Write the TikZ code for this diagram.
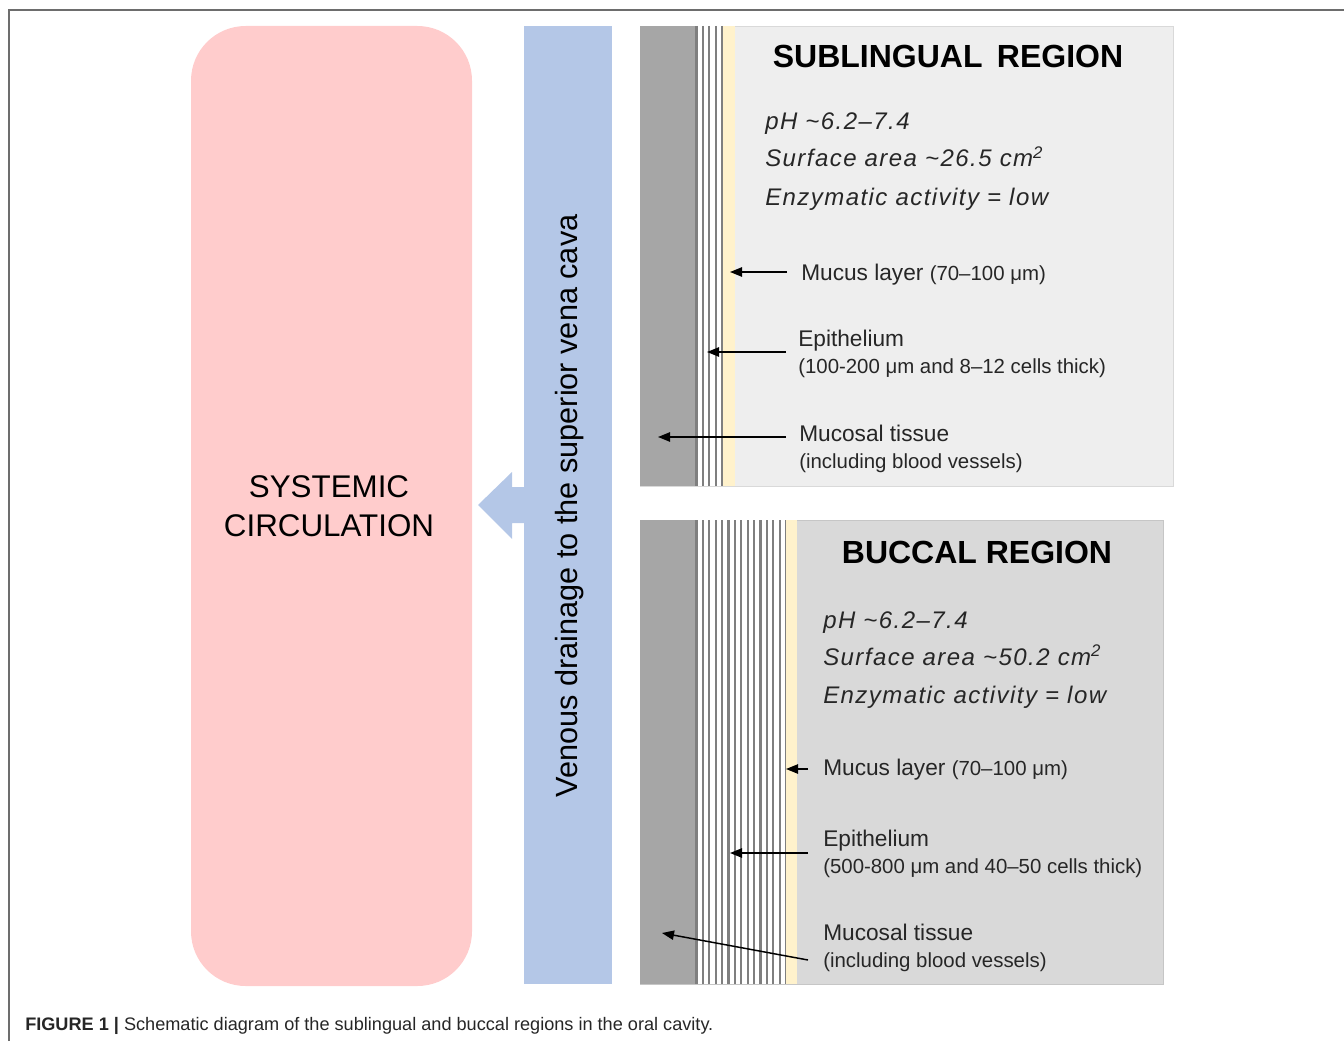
\documentclass[tikz,border=0pt]{standalone}
\usepackage{fontspec}
\setmainfont{Liberation Sans}
\usetikzlibrary{arrows.meta}

\definecolor{txt}{HTML}{262626}
\definecolor{pinkc}{HTML}{FFCCCC}
\definecolor{bluec}{HTML}{B4C7E7}
\definecolor{darkc}{HTML}{A6A6A6}
\definecolor{mucc}{HTML}{FFF2CC}
\definecolor{framec}{HTML}{6D6D6D}
\definecolor{stripec}{HTML}{7F7F7F}

\begin{document}
\begin{tikzpicture}[x=0.75pt,y=-0.75pt,
    ptr/.style={-{Triangle[length=9pt,width=7pt]},line width=1.1pt},
    stripe/.style={draw=stripec,line width=1.6pt},
    ttl/.style={font=\fontsize{24}{28}\selectfont\bfseries},
    stat/.style={anchor=base west,inner sep=0pt,text=txt,
        font=\fontsize{18}{22}\selectfont\itshape\addfontfeature{LetterSpace=6}},
    lab/.style={anchor=base west,align=left,inner sep=0pt,text=txt,
        font=\fontsize{17}{20}\selectfont}]
    \useasboundingbox (0,0) rectangle (1344,1041);
    \draw[framec,line width=1.5pt] (9,1041) -- (9,10) -- (1344,10);

    % systemic circulation and venous drainage
    \fill[pinkc,rounded corners=41pt] (191,26) rectangle (472,986);
    \fill[bluec] (524,26) rectangle (612,984);
    \fill[bluec] (524,487) -- (512,487) -- (512,472) -- (478,505)
        -- (512,539) -- (512,523) -- (524,523) -- cycle;
    \node[align=center,text=black,font=\fontsize{23.5}{29}\selectfont] (sys) at (329,506) {SYSTEMIC\\CIRCULATION};
    \node[rotate=90,text=black,font=\fontsize{23}{28}\selectfont] (ven) at (570,506) {Venous drainage to the superior vena cava};

    % sublingual region
    \filldraw[fill=gray!13,draw=gray!30] (640,26) rectangle (1173,486);
    \fill[darkc] (640,26) rectangle (696,486);
    \fill[white] (696,26) rectangle (723,486);
    \foreach \i in {0,...,4} \draw[stripe] (696.5+6.4*\i,26) -- ++(0,460);
    \fill[mucc] (723,26) rectangle (735,486);
    \node[ttl] (slT) at (948,56) {SUBLINGUAL\hspace{0.45em}REGION};
    \node[stat] (slPh) at (765,130) {pH \textasciitilde 6.2--7.4};
    \node[stat] (slSa) at (765,167) {Surface area \textasciitilde 26.5 cm\textsuperscript{2}};
    \node[stat] (slEa) at (765,205) {Enzymatic activity = low};
    \node[lab] (slM) at (801,280) {Mucus layer {\fontsize{15.3}{20}\selectfont (70--100 μm)}};
    \node[lab] (slE) at (798,373) {Epithelium\\{\fontsize{15.3}{20}\selectfont (100-200 μm and 8--12 cells thick)}};
    \node[lab] (slS) at (799,468) {Mucosal tissue\\{\fontsize{15.3}{20}\selectfont (including blood vessels)}};
    \coordinate (slMt) at (730,272);
    \coordinate (slEt) at (707,352);
    \coordinate (slSt) at (658,437);
    \draw[ptr] ([shift={(-14,-8)}]slM.base west) -- (slMt);
    \draw[ptr] ([shift={(-12,-21)}]slE.base west) -- (slEt);
    \draw[ptr] ([shift={(-13,-31)}]slS.base west) -- (slSt);

    % buccal region
    \filldraw[fill=gray!30,draw=gray!45] (640,520) rectangle (1163,984);
    \fill[darkc] (640,520) rectangle (696,984);
    \fill[white] (696,520) rectangle (786,984);
    \foreach \i in {0,...,14} \draw[stripe] (696.5+6.4*\i,520) -- ++(0,464);
    \fill[mucc] (786,520) rectangle (797,984);
    \node[ttl] (bcT) at (977,552.5) {BUCCAL REGION};
    \node[stat] (bcPh) at (823,628) {pH \textasciitilde 6.2--7.4};
    \node[stat] (bcSa) at (823,665) {Surface area \textasciitilde 50.2 cm\textsuperscript{2}};
    \node[stat] (bcEa) at (823,703) {Enzymatic activity = low};
    \node[lab] (bcM) at (823,775) {Mucus layer {\fontsize{15.3}{20}\selectfont (70--100 μm)}};
    \node[lab] (bcE) at (823,873) {Epithelium\\{\fontsize{15.3}{20}\selectfont (500-800 μm and 40--50 cells thick)}};
    \node[lab] (bcS) at (823,967) {Mucosal tissue\\{\fontsize{15.3}{20}\selectfont (including blood vessels)}};
    \coordinate (bcMt) at (786,769);
    \coordinate (bcEt) at (730,853);
    \coordinate (bcSt) at (662,933);
    \draw[ptr] ([shift={(-15,-6)}]bcM.base west) -- (bcMt);
    \draw[ptr] ([shift={(-15,-20)}]bcE.base west) -- (bcEt);
    \draw[ptr] ([shift={(-15,-7)}]bcS.base west) -- (bcSt);

    % caption
    \node[anchor=base west,inner sep=0pt,text=txt,font=\fontsize{13.6}{16}\selectfont] (cap) at (25,1030)
        {\textbf{FIGURE 1 |} Schematic diagram of the sublingual and buccal regions in the oral cavity.};
\end{tikzpicture}
\end{document}
